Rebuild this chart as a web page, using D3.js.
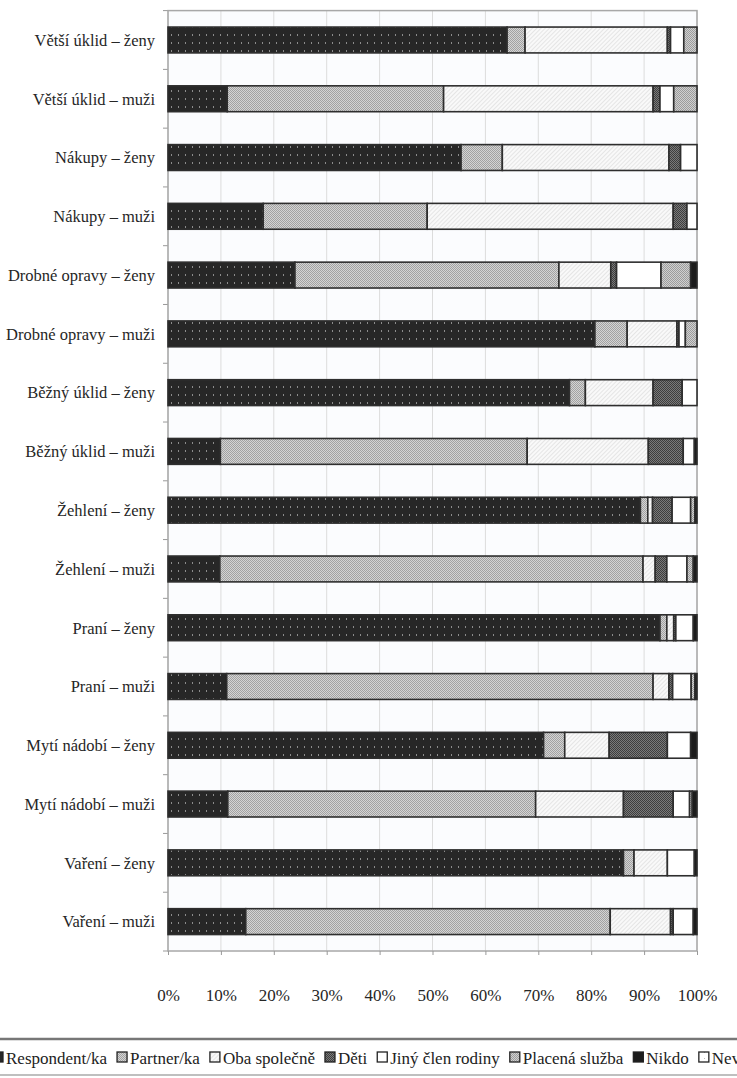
<!DOCTYPE html>
<html>
  <head>
    <meta charset="utf-8">
    <title>Domácí práce</title>
    <script src="https://d3js.org/d3.v7.min.js"></script>
  </head>
  <body style="margin:0; background:#fff">
    <svg width="737" height="1078" id="mainsvg"></svg>
    <script>
        // categories, top to bottom
        const categories = ['Větší úklid – ženy', 'Větší úklid – muži', 'Nákupy – ženy', 'Nákupy – muži',
          'Drobné opravy – ženy', 'Drobné opravy – muži', 'Běžný úklid – ženy', 'Běžný úklid – muži',
          'Žehlení – ženy', 'Žehlení – muži', 'Praní – ženy', 'Praní – muži',
          'Mytí nádobí – ženy', 'Mytí nádobí – muži', 'Vaření – ženy', 'Vaření – muži'];

        const seriesNames = ['Respondent/ka', 'Partner/ka', 'Oba společně', 'Děti',
          'Jiný člen rodiny', 'Placená služba', 'Nikdo', 'Neví'];

        // shares in %, one array per series, same order as categories
        const respondent = [64.1, 11.2, 55.4, 18.0, 24.0, 80.7, 75.9, 9.9, 89.3, 9.8, 93.0, 11.1, 71.0, 11.3, 86.1, 14.7];
        const partner    = [3.4, 40.9, 7.8, 31.0, 49.9, 6.1, 3.0, 58.0, 1.4, 80.0, 1.3, 80.6, 4.0, 58.2, 2.0, 68.9];
        const obaSpolecne= [26.9, 39.6, 31.5, 46.5, 9.8, 9.4, 12.8, 22.9, 0.9, 2.3, 1.3, 3.0, 8.4, 16.6, 6.3, 11.4];
        const deti       = [0.6, 1.3, 2.2, 2.6, 1.1, 0.4, 5.5, 6.6, 3.7, 2.2, 0.4, 0.7, 11.0, 9.4, 0, 0.5];
        const jinyClen   = [2.5, 2.6, 3.1, 1.9, 8.4, 1.2, 2.8, 2.1, 3.5, 3.8, 3.3, 3.5, 4.4, 3.1, 5.1, 3.8];
        const placena    = [2.5, 4.4, 0, 0, 5.6, 2.2, 0, 0, 0.8, 1.2, 0, 0.7, 0, 0.5, 0, 0];
        const nikdo      = [0, 0, 0, 0, 1.2, 0, 0, 0.5, 0.4, 0.7, 0.7, 0.4, 1.2, 0.9, 0.5, 0.7];
        const nevi       = [0, 0, 0, 0, 0, 0, 0, 0, 0, 0, 0, 0, 0, 0, 0, 0];

        const xTicks = [0, 10, 20, 30, 40, 50, 60, 70, 80, 90, 100];

        const seriesValues = [respondent, partner, obaSpolecne, deti, jinyClen, placena, nikdo, nevi];
        const rows = categories.map((c, i) => {
          const r = {name: c};
          seriesNames.forEach((s, k) => r[s] = seriesValues[k][i]);
          return r;
        });

        const font = 'Liberation Serif';
        const svg = d3.select('#mainsvg');
        const plotLeft = 168, plotRight = 697;
        const plotTop = 10.6, plotBottom = 951;

        // patterns for the grayscale fills
        const defs = svg.append('defs');
        const p0 = defs.append('pattern').attr('id', 'pRespondent').attr('patternUnits', 'userSpaceOnUse')
          .attr('width', 7).attr('height', 8);
        p0.append('rect').attr('width', 7).attr('height', 8).attr('fill', '#272727');
        p0.append('rect').attr('x', 3).attr('y', 2).attr('width', 1).attr('height', 2).attr('fill', '#8c8c8c');

        function checker(id, base, dot) {
          const p = defs.append('pattern').attr('id', id).attr('patternUnits', 'userSpaceOnUse')
            .attr('width', 2).attr('height', 2);
          p.append('rect').attr('width', 2).attr('height', 2).attr('fill', base);
          p.append('rect').attr('width', 1).attr('height', 1).attr('fill', dot);
          p.append('rect').attr('x', 1).attr('y', 1).attr('width', 1).attr('height', 1).attr('fill', dot);
        }
        checker('pPartner', '#d4d4d4', '#a2a2a2');
        checker('pDeti', '#7a7a7a', '#3e3e3e');
        checker('pPlacena', '#d0d0d0', '#9c9c9c');

        const p2 = defs.append('pattern').attr('id', 'pOba').attr('patternUnits', 'userSpaceOnUse')
          .attr('width', 3).attr('height', 3).attr('patternTransform', 'rotate(45)');
        p2.append('rect').attr('width', 3).attr('height', 3).attr('fill', '#f9f9f9');
        p2.append('line').attr('x1', 0).attr('y1', 0).attr('x2', 0).attr('y2', 3)
          .attr('stroke', '#c9c9c9').attr('stroke-width', 0.8);

        const p7 = defs.append('pattern').attr('id', 'pNevi').attr('patternUnits', 'userSpaceOnUse')
          .attr('width', 6).attr('height', 6);
        p7.append('rect').attr('width', 6).attr('height', 6).attr('fill', '#fff');
        p7.append('rect').attr('x', 2).attr('y', 2).attr('width', 1).attr('height', 1).attr('fill', '#bbb');

        const fills = ['url(#pRespondent)', 'url(#pPartner)', 'url(#pOba)', 'url(#pDeti)',
          '#ffffff', 'url(#pPlacena)', '#1c1c1c', 'url(#pNevi)'];
        const color = d3.scaleOrdinal().domain(seriesNames).range(fills);

        const x = d3.scaleLinear().domain([0, 100]).range([plotLeft, plotRight]);
        const y = d3.scaleBand().domain(categories).range([plotTop, plotBottom])
          .paddingInner(0.56).paddingOuter(0.28);

        // plot background
        svg.append('rect').attr('x', plotLeft).attr('y', plotTop)
          .attr('width', plotRight - plotLeft).attr('height', plotBottom - plotTop)
          .attr('fill', '#fbfcfe');

        // vertical grid
        svg.append('g').selectAll('line').data(xTicks).join('line')
          .attr('x1', d => x(d)).attr('x2', d => x(d))
          .attr('y1', plotTop).attr('y2', plotBottom)
          .attr('stroke', '#dcdcdc').attr('stroke-width', 1);

        // category boundary ticks on the left
        const step = y.step();
        const bounds = d3.range(categories.length + 1).map(i => y.range()[0] + i * step);
        svg.append('g').selectAll('line').data(bounds).join('line')
          .attr('x1', plotLeft - 5).attr('x2', plotLeft)
          .attr('y1', d => d).attr('y2', d => d)
          .attr('stroke', '#999').attr('stroke-width', 1);

        // plot frame
        svg.append('rect').attr('x', plotLeft).attr('y', plotTop)
          .attr('width', plotRight - plotLeft).attr('height', plotBottom - plotTop)
          .attr('fill', 'none').attr('stroke', '#a8a8a8').attr('stroke-width', 1.5);

        // stacked bars
        const stacked = d3.stack().keys(seriesNames)(rows);
        svg.append('g').selectAll('g').data(stacked).join('g')
          .attr('fill', d => color(d.key))
          .selectAll('rect').data(d => d.filter(s => s[1] - s[0] > 0)).join('rect')
          .attr('x', d => x(d[0]))
          .attr('y', d => y(d.data.name))
          .attr('width', d => x(d[1]) - x(d[0]))
          .attr('height', y.bandwidth())
          .attr('stroke', '#2e2e2e').attr('stroke-width', 1.6);

        // category labels
        svg.append('g').selectAll('text').data(categories).join('text')
          .attr('x', 155).attr('y', d => y(d) + y.bandwidth() / 2)
          .attr('dy', '0.35em').attr('text-anchor', 'end')
          .attr('font-family', font).attr('font-size', 16.5).attr('fill', '#262626')
          .text(d => d);

        // x axis
        const xAxis = d3.axisBottom(x).tickValues(xTicks).tickFormat(d => d + '%')
          .tickSize(4).tickPadding(34);
        const gx = svg.append('g').attr('transform', `translate(0, ${plotBottom})`).call(xAxis)
          .attr('font-family', font);
        gx.select('.domain').remove();
        gx.selectAll('.tick line').attr('stroke', '#999');
        gx.selectAll('.tick text').attr('font-size', 17).attr('fill', '#262626')
          .attr('font-family', font);

        // legend (wider than the page, as in the original, so the last item is clipped)
        const lg = svg.append('g');
        lg.append('line').attr('x1', 0).attr('x2', 737).attr('y1', 1039).attr('y2', 1039)
          .attr('stroke', '#777').attr('stroke-width', 2.5);
        lg.append('line').attr('x1', 0).attr('x2', 737).attr('y1', 1075).attr('y2', 1075)
          .attr('stroke', '#aaa').attr('stroke-width', 1.5);

        let cx = -7;
        seriesNames.forEach(name => {
          lg.append('rect').attr('x', cx).attr('y', 1052).attr('width', 10).attr('height', 10)
            .attr('fill', color(name)).attr('stroke', '#222').attr('stroke-width', 1.3);
          const t = lg.append('text').attr('x', cx + 13).attr('y', 1058).attr('dy', '0.35em')
            .attr('font-family', font).attr('font-size', 17).attr('fill', '#222').text(name);
          cx += 13 + t.node().getComputedTextLength() + 10;
        });
    </script>
  </body>
</html>
